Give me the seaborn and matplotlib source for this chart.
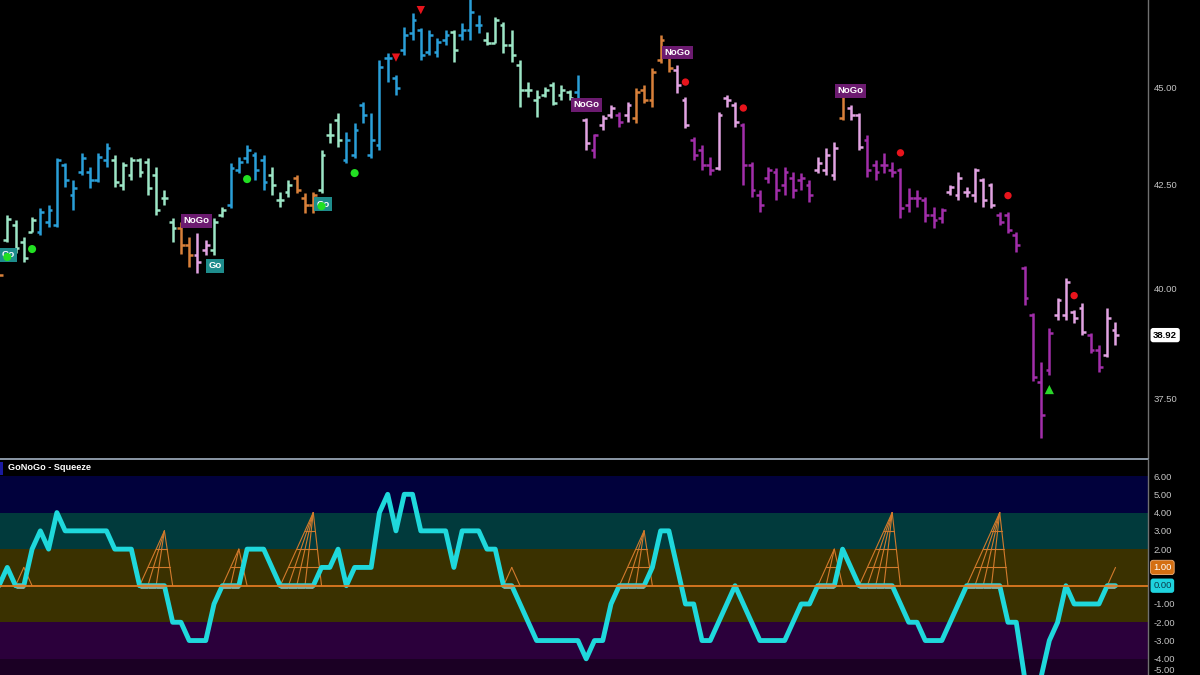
import numpy as np
import pandas as pd
import matplotlib
matplotlib.use("Agg")
import matplotlib.pyplot as plt
import matplotlib.transforms as mtransforms
from matplotlib.lines import Line2D
from matplotlib.patches import Rectangle
from matplotlib.ticker import NullLocator
import seaborn as sns

# ---------------- data ----------------
opens = [39.73, 41.15, 41.51, 41.10, 41.34, 41.34, 41.58, 41.51, 42.99, 42.25,
         42.82, 42.82, 42.62, 43.12, 43.12, 42.50, 42.74, 43.12, 43.07, 42.74,
         42.17, 41.58, 41.44, 41.03, 40.79, 40.91, 40.91, 41.75, 42.00, 42.87,
         43.17, 43.25, 43.12, 42.74, 42.12, 42.32, 42.67, 42.17, 42.00, 42.37,
         43.75, 44.14, 43.12, 43.25, 44.53, 43.25, 43.50, 45.77, 45.24, 45.98,
         46.44, 46.52, 45.93, 45.93, 46.25, 46.47, 46.38, 46.52, 46.66, 46.25,
         46.17, 46.66, 46.12, 45.58, 44.92, 44.66, 44.79, 45.05, 44.79, 44.87,
         44.87, 44.14, 43.37, 44.01, 44.27, 44.27, 44.27, 44.19, 44.92, 44.66,
         45.72, 45.98, 45.45, 44.66, 43.63, 43.37, 42.99, 42.92, 44.71, 44.53,
         44.01, 42.99, 42.25, 42.67, 42.82, 42.50, 42.67, 42.62, 42.50, 42.87,
         42.87, 42.74, 44.19, 44.45, 44.27, 43.63, 42.99, 42.99, 42.87, 42.87,
         42.00, 42.17, 42.12, 41.75, 41.68, 42.32, 42.25, 42.32, 42.25, 42.62,
         42.50, 41.75, 41.75, 41.27, 40.48, 39.38, 37.86, 38.14, 39.38, 39.38,
         39.45, 39.54, 38.92, 38.59, 38.48, 39.04]
highs = [40.48, 41.75, 41.63, 41.22, 41.70, 41.93, 42.00, 43.17, 43.04, 42.62,
         43.30, 42.94, 43.30, 43.55, 43.25, 43.07, 43.20, 43.17, 43.17, 42.94,
         42.37, 41.68, 41.58, 41.22, 41.32, 41.15, 41.68, 41.95, 43.04, 43.20,
         43.50, 43.32, 43.25, 42.94, 42.32, 42.62, 42.74, 42.30, 42.32, 43.37,
         44.06, 44.32, 43.83, 44.06, 44.61, 44.32, 45.72, 45.91, 45.32, 46.60,
         46.98, 46.57, 46.52, 46.30, 46.52, 46.52, 46.71, 47.40, 46.93, 46.47,
         46.88, 46.74, 46.52, 45.72, 45.13, 44.92, 45.00, 45.13, 45.05, 44.92,
         45.32, 44.19, 43.78, 44.27, 44.53, 44.35, 44.61, 44.97, 45.05, 45.50,
         46.38, 46.04, 45.58, 44.74, 43.70, 43.50, 43.20, 44.35, 44.79, 44.61,
         44.06, 43.07, 42.37, 42.94, 42.92, 42.94, 42.82, 42.79, 42.62, 43.20,
         43.42, 43.58, 44.84, 44.53, 44.32, 43.75, 43.12, 43.30, 43.07, 42.92,
         42.42, 42.37, 42.20, 41.95, 41.93, 42.50, 42.82, 42.45, 42.92, 42.67,
         42.55, 41.83, 41.83, 41.34, 40.53, 39.43, 38.32, 39.09, 39.77, 40.25,
         39.50, 39.66, 38.97, 38.70, 39.54, 39.22]
lows = [38.81, 41.10, 40.84, 40.62, 41.34, 41.27, 41.46, 41.46, 42.45, 41.88,
        42.74, 42.42, 42.57, 42.94, 42.45, 42.37, 42.62, 42.69, 42.25, 41.75,
        42.00, 41.10, 40.81, 40.51, 40.37, 40.79, 40.79, 41.70, 41.93, 42.79,
        43.04, 42.62, 42.37, 42.25, 41.95, 42.20, 42.30, 41.80, 41.80, 42.30,
        43.55, 43.45, 43.04, 43.17, 44.06, 43.17, 43.37, 45.13, 44.79, 45.85,
        46.25, 45.72, 45.85, 45.80, 46.12, 45.67, 46.25, 46.25, 46.44, 46.12,
        46.17, 45.90, 45.67, 44.48, 44.74, 44.22, 44.74, 44.53, 44.66, 44.66,
        44.48, 43.37, 43.17, 43.88, 44.19, 43.96, 44.09, 44.06, 44.58, 44.48,
        45.64, 45.40, 44.84, 43.93, 43.12, 42.87, 42.74, 42.87, 44.48, 43.96,
        42.50, 42.20, 41.83, 42.55, 42.12, 42.25, 42.17, 42.37, 42.07, 42.79,
        42.74, 42.62, 44.14, 44.14, 43.37, 42.69, 42.62, 42.79, 42.69, 41.68,
        41.83, 41.95, 41.58, 41.44, 41.56, 42.25, 42.12, 42.20, 42.07, 41.95,
        41.93, 41.51, 41.32, 40.86, 39.61, 37.88, 36.65, 38.03, 39.27, 39.27,
        39.20, 38.92, 38.52, 38.10, 38.43, 38.70]
closes = [40.32, 41.65, 40.96, 40.72, 41.63, 41.83, 41.88, 43.12, 42.62, 42.42,
          43.17, 42.62, 43.20, 43.42, 42.57, 42.99, 43.12, 42.82, 42.42, 41.88,
          42.17, 41.44, 41.03, 40.79, 40.62, 41.03, 41.58, 41.88, 42.92, 43.07,
          43.37, 42.87, 42.57, 42.50, 42.12, 42.50, 42.37, 42.00, 42.25, 43.25,
          43.75, 43.63, 43.63, 43.88, 44.27, 43.63, 45.53, 45.77, 44.97, 46.38,
          46.80, 45.85, 46.38, 46.20, 46.38, 45.98, 46.52, 47.02, 46.66, 46.17,
          46.80, 46.12, 45.85, 44.92, 44.92, 44.74, 44.92, 44.58, 44.92, 44.71,
          44.53, 43.55, 43.75, 44.19, 44.45, 44.09, 44.53, 44.87, 44.66, 45.40,
          46.25, 45.50, 45.05, 44.01, 43.25, 42.99, 42.87, 44.27, 44.66, 44.09,
          42.99, 42.37, 42.00, 42.87, 42.37, 42.82, 42.37, 42.67, 42.25, 43.04,
          43.25, 43.42, 44.79, 44.27, 43.45, 42.87, 42.82, 42.99, 42.82, 41.93,
          42.17, 42.17, 41.75, 41.63, 41.88, 42.45, 42.67, 42.32, 42.87, 42.12,
          42.00, 41.58, 41.39, 41.03, 39.77, 37.97, 37.15, 38.97, 39.73, 40.15,
          39.31, 39.00, 38.59, 38.19, 39.31, 38.92]
# GoNoGo state per bar: B strong Go, A Go, O amber, P NoGo, M strong NoGo
bar_state = ("OAAAABBBBB" "BBBBAAAAAA" "AAOOPPAABB" "BBBAAAOOOA" "AABBBBBBBB"
             "BBBBBABBBA" "AAAAAAAAAA" "BPMPPMPOOO" "OOPPMMMPPP" "MMMMMMMMMP"
             "PPOPPMMMMM" "MMMMMPPPPP" "PMMMMMMMPP" "PPMMPP")

squeeze = [0, 1, 0, 0, 2, 3, 2, 4, 3, 3,
           3, 3, 3, 3, 2, 2, 2, 0, 0, 0,
           0, -2, -2, -3, -3, -3, -1, 0, 0, 0,
           2, 2, 2, 1, 0, 0, 0, 0, 0, 1,
           1, 2, 0, 1, 1, 1, 4, 5, 3, 5,
           5, 3, 3, 3, 3, 1, 3, 3, 3, 2,
           2, 0, 0, -1, -2, -3, -3, -3, -3, -3,
           -3, -4, -3, -3, -1, 0, 0, 0, 0, 1,
           3, 3, 1, -1, -1, -3, -3, -2, -1, 0,
           -1, -2, -3, -3, -3, -3, -2, -1, -1, 0,
           0, 0, 2, 1, 0, 0, 0, 0, 0, -1,
           -2, -2, -3, -3, -3, -2, -1, 0, 0, 0,
           0, 0, -2, -2, -5, -6, -5, -3, -2, 0,
           -1, -1, -1, -1, 0, 0]

# squeeze pyramids: start bar, peak bar, peak height
sq_start = [2, 17, 27, 34, 61, 75, 99, 104, 117]
sq_peak = [3, 20, 29, 38, 62, 78, 101, 108, 121]
sq_height = [1, 3, 2, 4, 1, 3, 2, 4, 4]
sq_open_x = [134, 135]
sq_open_y = [0, 1]

green_dot_idx = [1, 4, 30, 39, 43]
green_dot_price = [40.74, 40.93, 42.64, 41.97, 42.79]
red_dot_idx = [83, 90, 109, 122, 130]
red_dot_price = [45.13, 44.45, 43.30, 42.23, 39.83]
red_tri_idx = [48, 51]
red_tri_price = [45.78, 47.07]
green_tri_idx = [127]
green_tri_price = [37.70]

label_text = ["Go", "NoGo", "Go", "Go", "NoGo", "NoGo", "NoGo"]
label_idx = [1.1, 23.9, 26.1, 39.2, 71.0, 82.0, 103.0]
label_price = [40.79, 41.61, 40.53, 42.02, 44.53, 45.92, 44.90]

price_ticks = [37.5, 40.0, 42.5, 45.0]
price_tick_labels = ["37.50", "40.00", "42.50", "45.00"]
osc_ticks = [6, 5, 4, 3, 2, -1, -2, -3, -4]
osc_tick_labels = ["6.00", "5.00", "4.00", "3.00", "2.00", "-1.00", "-2.00", "-3.00", "-4.00"]
last_price = 38.92

band_lo = [4, 2, -2, -4, -9]
band_hi = [6, 4, 2, -2, -4]

# ---------------- style ----------------
sns.set_theme(style="dark")
plt.rcParams['font.family'] = ['Liberation Sans', 'DejaVu Sans']

state_colors = {"B": "#2a9fd8", "A": "#9de6c6", "O": "#d9803a",
                "P": "#e2a3e2", "M": "#a22eaa"}
band_colors = ["#01013c", "#013a3c", "#3a3100", "#2b003b", "#1b0024"]
ORANGE = "#de7a22"
CYAN = "#1fd8dc"
TICK_COL = "#c4c4c4"

W, H = 1200, 675
fig = plt.figure(figsize=(12, 6.75), dpi=100, facecolor="black")
ax = fig.add_axes([0, 217 / H, 1148 / W, 458 / H])
axs = fig.add_axes([0, 0, 1148 / W, 215 / H])

for a in (ax, axs):
    a.set_facecolor("black")
    for sp in ["top", "left", "bottom"]:
        a.spines[sp].set_visible(False)
    a.spines["right"].set_color("#707070")
    a.spines["right"].set_linewidth(1.0)
    a.grid(False)
    a.yaxis.tick_right()
    a.tick_params(axis="x", bottom=False, labelbottom=False)
    a.tick_params(axis="y", length=0, pad=4, labelsize=6.8, labelcolor=TICK_COL,
                  left=False, right=False)
    a.set_xlim(0.121, 138.93)

# ---------------- price panel ----------------
n = len(closes)
df = pd.DataFrame({"idx": np.arange(n), "open": opens, "high": highs,
                   "low": lows, "close": closes, "state": list(bar_state)})
tick_w = 0.46
bar_lw = 1.8
for st, col in state_colors.items():
    d = df[df["state"] == st]
    ax.vlines(d["idx"], d["low"], d["high"], colors=col, lw=bar_lw, zorder=3)
    ax.hlines(d["open"], d["idx"] - tick_w, d["idx"], colors=col, lw=bar_lw, zorder=3)
    ax.hlines(d["close"], d["idx"], d["idx"] + tick_w, colors=col, lw=bar_lw, zorder=3)

ax.set_yscale("log")
ax.set_ylim(36.22, 47.35)
ax.set_yticks(price_ticks)
ax.set_yticklabels(price_tick_labels)
ax.yaxis.set_minor_locator(NullLocator())

for txt, xi, yp in zip(label_text, label_idx, label_price):
    fc = "#1e8c8c" if txt == "Go" else "#6c1b70"
    ax.text(xi, yp, txt, ha="center", va="center", color="white", fontsize=6.8,
            fontweight="bold", zorder=4,
            bbox=dict(boxstyle="square,pad=0.25", fc=fc, ec="none"))

sns.scatterplot(x=green_dot_idx, y=green_dot_price, ax=ax, color="#22e022", s=34,
                marker="o", edgecolor="none", legend=False, zorder=6)
sns.scatterplot(x=red_dot_idx, y=red_dot_price, ax=ax, color="#e8141c", s=28,
                marker="o", edgecolor="none", legend=False, zorder=6)
sns.scatterplot(x=red_tri_idx, y=red_tri_price, ax=ax, color="#e8141c", s=36,
                marker="v", edgecolor="none", legend=False, zorder=6)
sns.scatterplot(x=green_tri_idx, y=green_tri_price, ax=ax, color="#2ad62a", s=44,
                marker="^", edgecolor="none", legend=False, zorder=6)

trans_p = mtransforms.blended_transform_factory(ax.transAxes, ax.transData)
ax.text(1.0045, last_price, f"{last_price:.2f}", transform=trans_p, ha="left",
        va="center", fontsize=6.8, fontweight="bold", color="black", clip_on=False,
        bbox=dict(boxstyle="round,pad=0.28", fc="white", ec="none"))
ax.set_xlabel("")
ax.set_ylabel("")

# ---------------- squeeze panel ----------------
axs.set_ylim(-4.885, 6.876)
for lo, hi, col in zip(band_lo, band_hi, band_colors):
    axs.axhspan(lo, hi, color=col, lw=0, zorder=0)

mesh_kw = dict(color="#d27a2c", lw=0.8, zorder=2)
for s, p, h in zip(sq_start, sq_peak, sq_height):
    for m in range(p - s):
        axs.plot([s + m, p], [0, h], **mesh_kw)
    axs.plot([p, p + 1], [h, 0], **mesh_kw)
    for k in range(1, h):
        xl = s + (p - s) * k / h
        xr = p + (1 - k / h)
        axs.plot([xl, xr], [k, k], **mesh_kw)
axs.plot(sq_open_x, sq_open_y, **mesh_kw)

idx = np.arange(n)
sns.lineplot(x=idx, y=squeeze, ax=axs, color=CYAN, lw=3.5, zorder=3)
sq = np.array(squeeze)
for i in range(n - 1):
    if sq[i] == 0 and sq[i + 1] == 0:
        axs.plot([i, i + 1], [0, 0], color="#86ae9f", lw=3.5,
                 solid_capstyle="butt", zorder=4)
axs.axhline(0, color=ORANGE, lw=1.3, zorder=5)

axs.set_yticks(osc_ticks)
axs.set_yticklabels(osc_tick_labels)
axs.set_xlabel("")
axs.set_ylabel("")
trans_s = mtransforms.blended_transform_factory(axs.transAxes, axs.transData)
axs.text(1.0045, -4.885, "-5.00", transform=trans_s, ha="left", va="bottom",
         fontsize=6.8, color=TICK_COL, clip_on=False)
axs.text(1.0045, sq_open_y[-1], f"{sq_open_y[-1]:.2f}", transform=trans_s, ha="left",
         va="center", fontsize=6.8, color="white", clip_on=False,
         bbox=dict(boxstyle="round,pad=0.28", fc="#d46f12", ec="#f2b27a", lw=0.6))
axs.text(1.0045, squeeze[-1], f"{squeeze[-1]:.2f}", transform=trans_s, ha="left",
         va="center", fontsize=6.8, color="#0b3a4a", clip_on=False,
         bbox=dict(boxstyle="round,pad=0.28", fc="#1fd3de", ec="none"))

# title strip & separator
fig.add_artist(Line2D([0, 1148 / W], [1 - 459 / H] * 2, color="#8b98a6", lw=1.4,
                      transform=fig.transFigure))
fig.add_artist(Rectangle((0, 1 - 475 / H), 3 / W, 13 / H, transform=fig.transFigure,
                         color="#1a1aa0", lw=0))
fig.text(8 / W, 1 - 467.5 / H, "GoNoGo - Squeeze", color="white", fontsize=6.6,
         fontweight="bold", va="center", ha="left")

fig.savefig("out.png", dpi=100, facecolor="black")
